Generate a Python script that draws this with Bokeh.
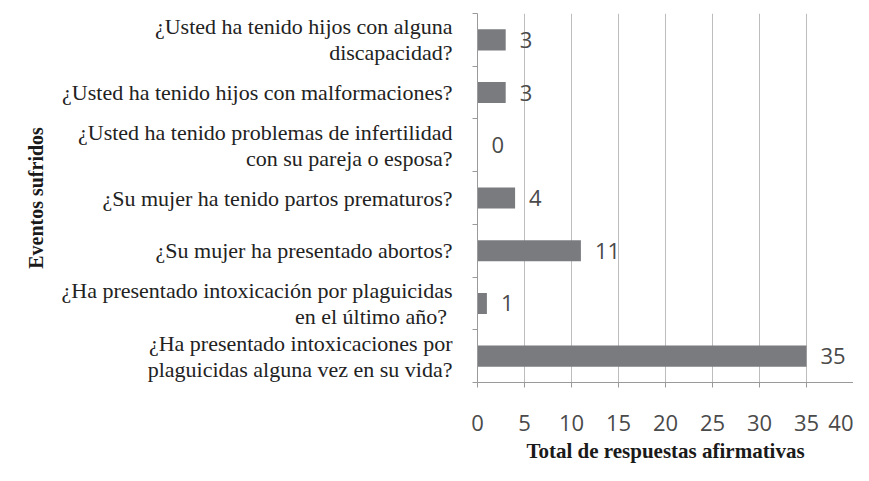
from bokeh.plotting import figure
from bokeh.models import FixedTicker, ColumnDataSource, Range1d
from bokeh.core.properties import value
from bokeh.embed import file_html
from bokeh.resources import INLINE

# categories listed bottom -> top
categories = [
    "¿Ha presentado intoxicaciones por\nplaguicidas alguna vez en su vida?",
    "¿Ha presentado intoxicación por plaguicidas\nen el  último año?",
    "¿Su mujer ha presentado abortos?",
    "¿Su mujer ha tenido partos prematuros?",
    "¿Usted ha tenido problemas de infertilidad\ncon su pareja o esposa?",
    "¿Usted ha tenido hijos con malformaciones?",
    "¿Usted ha tenido hijos con alguna\ndiscapacidad?",
]
values = [35, 1, 11, 4, 0, 3, 3]
x_ticks = [0, 5, 10, 15, 20, 25, 30, 35, 40]

ys = list(range(len(categories)))
labels = [str(v) for v in values]
src = ColumnDataSource(dict(y=ys, v=values, lab=labels))

num_font = "Liberation Sans Narrow, Open Sans"
serif = "Liberation Serif"

p = figure(width=853, height=465, output_backend="svg", toolbar_location=None,
           x_range=Range1d(0, 40), y_range=Range1d(-0.5, len(categories) - 0.5),
           min_border_left=477, min_border_right=0, min_border_top=13,
           min_border_bottom=80)
p.outline_line_color = None
p.background_fill_color = "white"

p.hbar(y="y", right="v", left=0, height=0.4, source=src,
       fill_color="#7a7b7e", line_color=None)
p.text(x="v", y="y", text="lab", source=src, x_offset=14,
       text_align="left", text_baseline="middle",
       text_font=value(num_font), text_font_size="22px", text_color="#4a4a4a")

# x axis
p.xaxis.ticker = FixedTicker(ticks=x_ticks)
p.xaxis.minor_tick_line_color = None
p.xaxis.major_tick_in = 0
p.xaxis.major_tick_out = 5
p.xaxis.axis_line_color = "#9a9a9a"
p.xaxis.major_tick_line_color = "#9a9a9a"
p.xaxis.major_label_text_font = num_font
p.xaxis.major_label_text_font_size = "22px"
p.xaxis.major_label_text_color = "#4a4a4a"
p.xaxis.major_label_standoff = 27
p.xaxis.axis_label = "Total de respuestas afirmativas"
p.xaxis.axis_label_text_font = serif
p.xaxis.axis_label_text_font_style = "bold"
p.xaxis.axis_label_text_font_size = "21px"
p.xaxis.axis_label_text_color = "#1a1a1a"
p.xaxis.axis_label_standoff = 5

# y axis
p.yaxis.ticker = FixedTicker(ticks=ys,
                             minor_ticks=[i - 0.5 for i in range(len(categories) + 1)])
p.yaxis.major_label_overrides = {i: c for i, c in zip(ys, categories)}
p.yaxis.major_tick_in = 0
p.yaxis.major_tick_out = 0
p.yaxis.minor_tick_in = 0
p.yaxis.minor_tick_out = 5
p.yaxis.minor_tick_line_color = "#9a9a9a"
p.yaxis.axis_line_color = "#9a9a9a"
p.yaxis.major_label_text_font = serif
p.yaxis.major_label_text_font_size = "22px"
p.yaxis.major_label_text_color = "#222222"
p.yaxis.major_label_text_line_height = 1.05
p.yaxis.major_label_standoff = 20
p.yaxis.axis_label = "Eventos sufridos"
p.yaxis.axis_label_text_font = serif
p.yaxis.axis_label_text_font_style = "bold"
p.yaxis.axis_label_text_font_size = "20px"
p.yaxis.axis_label_text_color = "#1a1a1a"
p.yaxis.axis_label_standoff = 12

p.ygrid.grid_line_color = None
p.xgrid.grid_line_color = "#bdbdbd"
p.xgrid.ticker = FixedTicker(ticks=x_ticks[1:])

open("out.html", "w").write(file_html(p, INLINE))
